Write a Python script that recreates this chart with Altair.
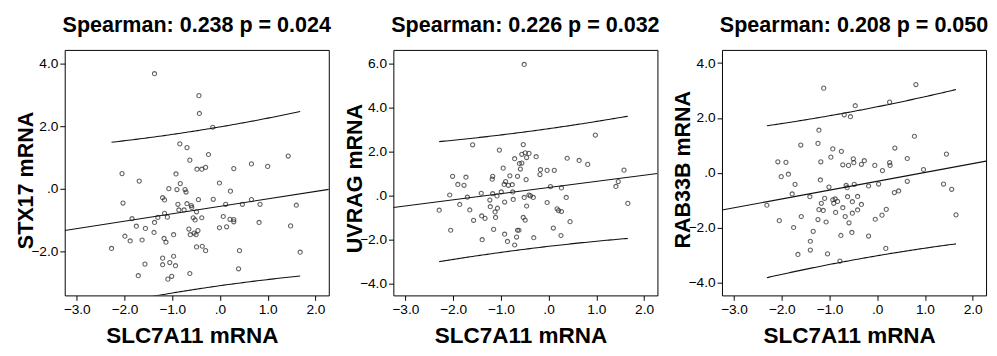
import altair as alt
import pandas as pd
import numpy as np

# ---------------- data ----------------
titles = ["Spearman: 0.238 p = 0.024", "Spearman: 0.226 p = 0.032", "Spearman: 0.208 p = 0.050"]
y_titles = ["STX17 mRNA", "UVRAG mRNA", "RAB33B mRNA"]
x_title = "SLC7A11 mRNA"
x_ticks = [-3.0, -2.0, -1.0, 0.0, 1.0, 2.0]
x_domain = [-3.25, 2.28]
y_domains = [[-3.4, 4.44], [-4.55, 6.6], [-4.45, 4.48]]
y_ticks = [[-2.0, 0.0, 2.0, 4.0], [-4.0, -2.0, 0.0, 2.0, 4.0, 6.0], [-4.0, -2.0, 0.0, 2.0, 4.0]]

x1 = [-1.37, -0.44, -0.43, -0.15, -0.84, -0.69, -0.24, -0.63, 1.43, -2.05, -0.92, -0.48, -0.38, -0.30,
      0.29, 0.66, 1.00, -1.69, -0.83, -1.07, -0.90, -0.73, -0.71, -0.01, 0.22, -2.03, -1.20, -1.16,
      -0.88, -0.86, -0.75, -0.69, -0.60, -0.59, -0.45, -0.49, -0.14, 0.12, 0.47, 0.66, 0.84, 1.60,
      -1.84, -1.75, -1.56, -1.37, -1.30, -1.16, -1.10, -0.56, -0.52, -0.38, 0.07, 0.21, 0.29, 0.29,
      0.82, -0.01, 0.14, 1.48, -1.99, -1.88, -1.63, -1.38, -1.17, -1.13, -0.97, -0.65, -0.62, -0.54,
      -0.50, -0.46, -0.49, -0.37, -0.30, 0.41, 1.68, -2.27, -1.57, -1.20, -1.20, -0.97, -1.05, -0.93,
      -1.71, -1.09, -1.01, -0.63, 0.39]
y1 = [3.68, 2.98, 2.41, 1.97, 1.44, 1.32, 1.10, 0.92, 1.05, 0.49, 0.48, 0.63, 0.63, 0.69,
      0.65, 0.80, 0.72, 0.25, 0.17, 0.01, -0.02, -0.02, -0.10, 0.19, -0.07, -0.45, -0.28, -0.35,
      -0.49, -0.67, -0.67, -0.47, -0.53, -0.59, -0.34, -0.73, -0.33, -0.49, -0.49, -0.34, -0.49, -0.52,
      -0.95, -1.19, -1.26, -1.07, -0.91, -0.78, -0.90, -0.92, -0.99, -0.92, -0.88, -0.97, -0.98, -1.05,
      -1.07, -1.24, -1.21, -1.18, -1.51, -1.66, -1.63, -1.39, -1.58, -1.70, -1.46, -1.28, -1.46, -1.41,
      -1.46, -1.33, -1.85, -1.83, -1.97, -1.97, -2.02, -1.90, -2.40, -2.21, -2.42, -2.15, -2.35, -2.45,
      -2.77, -2.88, -2.79, -2.70, -2.55]

x2 = [-0.51, -1.59, -1.03, -0.53, -0.71, -0.49, -0.41, -0.56, -0.46, -0.26, -0.61, -0.56, -0.59, -0.95,
      0.39, 0.64, 0.82, 0.98, -0.17, -0.18, -0.03, 0.12, 1.58, -2.01, -1.90, -1.77, -1.73, -1.17,
      -1.18, -0.81, -0.65, -0.90, -0.93, -0.84, -0.76, -0.47, -0.99, -0.75, 0.04, 0.27, 1.41, 1.46,
      -2.07, -1.70, -1.41, -1.17, -1.08, -0.41, -0.38, -0.51, -0.32, 0.37, -1.86, -2.29, -1.65, -1.23,
      -1.22, -1.07, -1.12, -0.92, -0.74, -0.46, -0.03, 0.18, 0.21, 0.27, 1.66, -1.57, -1.40, -1.33,
      -1.11, -0.53, -0.49, 0.45, -2.05, -1.15, -0.65, -0.62, 0.10, -0.92, -0.67, -0.31, 0.26, -1.39,
      -0.86, -0.71]
y2 = [5.94, 2.29, 2.05, 2.30, 1.66, 1.93, 1.90, 1.86, 1.71, 1.75, 1.44, 1.46, 1.19, 1.23,
      1.68, 1.58, 1.40, 2.73, 1.16, 0.94, 1.13, 1.13, 1.14, 0.86, 0.49, 0.45, 0.82, 0.86,
      0.73, 0.88, 0.86, 0.62, 0.49, 0.45, 0.48, 0.71, 0.15, 0.15, 0.39, 0.33, 0.40, 0.62,
      0.01, -0.09, 0.09, 0.07, -0.03, 0.01, -0.03, -0.10, -0.10, -0.10, -0.42, -0.68, -0.67, -0.22,
      -0.52, -0.59, -0.76, -0.31, -0.19, -0.49, -0.33, -0.62, -0.70, -0.74, -0.37, -1.14, -0.94, -1.05,
      -1.01, -1.01, -1.13, -1.20, -1.59, -1.55, -1.59, -1.59, -1.49, -1.77, -1.90, -1.93, -1.83, -2.02,
      -2.10, -2.26]

x3 = [-1.12, 0.81, -0.46, 0.26, -0.69, -0.56, -1.22, 0.78, -1.60, -1.24, 0.37, -0.93, -0.75, -0.97,
      1.45, -2.08, -1.91, -1.18, -0.50, -0.49, -0.72, -0.60, -0.33, -0.27, -0.05, 0.26, 0.27, 0.63,
      0.11, 0.97, -2.01, -1.86, -1.72, -1.19, -1.01, -0.65, -0.63, -0.48, -0.18, 0.03, 0.63, 0.36,
      0.45, 1.39, 1.56, -2.31, -1.78, -1.41, -1.17, -1.10, -0.93, -0.91, -0.88, -0.83, -0.72, -0.62,
      -0.52, -0.41, -0.33, -0.41, -1.22, -1.13, -0.87, -0.67, -0.52, -0.59, 0.19, 0.10, 1.65, -2.05,
      -1.59, -1.24, -1.07, -0.04, -1.75, -1.34, -0.76, -0.53, -0.18, -1.40, -1.40, -1.66, -1.04, -0.78,
      0.18]
y3 = [3.09, 3.22, 2.45, 2.58, 2.12, 2.05, 1.56, 1.34, 1.02, 1.08, 0.91, 0.88, 0.79, 0.58,
      0.69, 0.41, 0.39, 0.41, 0.52, 0.38, 0.30, 0.28, 0.32, 0.45, 0.28, 0.38, 0.28, 0.53,
      0.09, 0.13, -0.13, -0.04, -0.41, -0.25, -0.51, -0.45, -0.53, -0.41, -0.47, -0.40, -0.30, -0.71,
      -0.65, -0.40, -0.59, -1.17, -0.76, -0.86, -1.10, -0.92, -0.97, -1.10, -0.94, -1.03, -1.26, -0.86,
      -1.04, -0.85, -1.14, -1.34, -1.33, -1.36, -1.43, -1.58, -1.46, -1.81, -1.32, -1.53, -1.52, -1.73,
      -1.58, -1.69, -1.78, -1.68, -1.98, -2.12, -2.27, -2.16, -2.29, -2.48, -2.80, -2.96, -2.94, -3.20,
      -2.74]

xs = [x1, x2, x3]
ys = [y1, y2, y3]
y_title_pos = [133, 131, 122]

FONT = "Liberation Sans"
T_95 = 1.987  # t quantile, 95 %, about 87 df


def fit_frames(x, y):
    xa = np.asarray(x, dtype=float)
    ya = np.asarray(y, dtype=float)
    n = len(xa)
    xbar = xa.mean()
    sxx = ((xa - xbar) ** 2).sum()
    b = ((xa - xbar) * (ya - ya.mean())).sum() / sxx
    a = ya.mean() - b * xbar
    s = np.sqrt(((ya - (a + b * xa)) ** 2).sum() / (n - 2))
    gx = np.linspace(xa.min(), xa.max(), 80)
    hw = T_95 * s * np.sqrt(1 + 1 / n + (gx - xbar) ** 2 / sxx)
    fit = a + b * gx
    band = pd.DataFrame({
        "x": np.concatenate([gx, gx]),
        "y": np.concatenate([fit + hw, fit - hw]),
        "g": ["upper"] * len(gx) + ["lower"] * len(gx),
    })
    line = pd.DataFrame({"x": x_domain, "y": [a + b * v for v in x_domain]})
    return line, band


label_expr = "datum.value == 0 ? '.0' : format(datum.value, '.1f')"


def panel(i):
    pts = pd.DataFrame({"x": xs[i], "y": ys[i]})
    line, band = fit_frames(xs[i], ys[i])
    xenc = alt.X("x:Q", scale=alt.Scale(domain=x_domain, nice=False, zero=False),
                 axis=alt.Axis(values=x_ticks, labelExpr=label_expr, title=x_title,
                               titleX=130, titleY=48, titleBaseline="alphabetic",
                               titleAnchor="middle", titleAlign="center"))
    yenc = alt.Y("y:Q", scale=alt.Scale(domain=y_domains[i], nice=False, zero=False),
                 axis=alt.Axis(values=y_ticks[i], labelExpr=label_expr, title=y_titles[i],
                               titleX=-33, titleY=y_title_pos[i], titleBaseline="alphabetic",
                               titleAngle=270, titleAlign="center", titleFontSize=22))
    p = alt.Chart(pts).mark_point(filled=False, size=18, strokeWidth=1.1, color="#222", clip=True).encode(
        x=xenc, y=yenc)
    ln = alt.Chart(line).mark_line(color="#111", strokeWidth=1.1, clip=True).encode(x="x:Q", y="y:Q")
    bd = alt.Chart(band).mark_line(color="#111", strokeWidth=1.1, clip=True).encode(
        x="x:Q", y="y:Q", detail="g:N")
    return alt.layer(p, ln, bd).properties(
        width=270, height=251,
        title=alt.TitleParams(titles[i], fontSize=22, fontWeight="bold", font=FONT, color="#000",
                              anchor="middle", baseline="alphabetic", offset=-4),
    )


chart = alt.hconcat(panel(0), panel(1), panel(2), spacing=11).properties(
    padding={"left": 6, "top": 2, "right": 0, "bottom": 0}
).configure_view(
    stroke="#000", strokeWidth=1
).configure_axis(
    labelFont=FONT, labelFontSize=14, labelColor="#000", labelPadding=2,
    titleFont=FONT, titleFontSize=23, titleFontWeight="bold", titleColor="#000",
    tickColor="#000", tickSize=5, tickWidth=1, domain=False, grid=False,
).configure_axisBottom(labelPadding=3)

chart.save("out.html", embed_options={"renderer": "svg", "actions": False})
